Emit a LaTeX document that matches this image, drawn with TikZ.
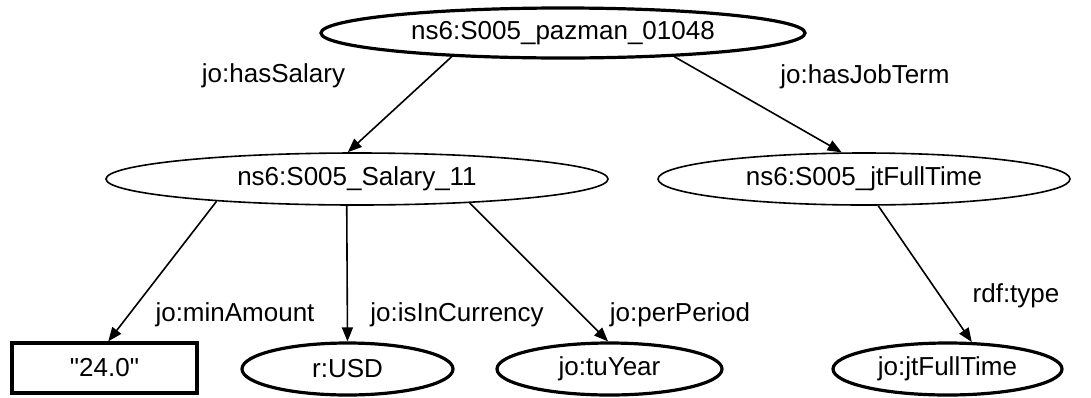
\documentclass[tikz,border=0pt]{standalone}
\usepackage{fontspec}
\setmainfont{Liberation Sans}[Ligatures=TeXOff]
\usetikzlibrary{shapes.geometric,arrows.meta}

\begin{document}
\begin{tikzpicture}[x=1pt,y=-1pt,
  font=\fontsize{26}{30}\selectfont,
  res/.style={ellipse,draw,inner sep=0pt,line width=#1},
  res/.default=3.2pt,
  lit/.style={rectangle,draw,inner sep=0pt,line width=3.2pt},
  rel/.style={line width=1.6pt,-{Triangle[length=14pt,width=11pt]}},
  lbl/.style={anchor=base,inner sep=0pt}]
\useasboundingbox (0,0) rectangle (1091,397);

% resources
\node[res, minimum width=484pt, minimum height=50pt] (job) at (563,33) {ns6:S005\_pazman\_01048};
\node[res=1.6pt, minimum width=502pt, minimum height=52pt] (sal) at (357,179) {ns6:S005\_Salary\_11};
\node[res=1.6pt, minimum width=412pt, minimum height=52pt] (term) at (864,179) {ns6:S005\_jtFullTime};

% leaves
\node[lit, minimum width=185pt, minimum height=50pt] (amt) at (104.5,368) {"24.0"};
\node[res, minimum width=211pt, minimum height=52pt] (usd) at (347.5,369) {r:USD};
\node[res, minimum width=225pt, minimum height=52pt] (year) at (609.5,369) {jo:tuYear};
\node[res, minimum width=229pt, minimum height=52pt] (ft) at (947.5,369) {jo:jtFullTime};

% properties
\draw[rel] (job.192.1) -- (sal.109.1);
\draw[rel] (job.348.2) -- (term.130.4);
\draw[rel] (sal.189.3) -- (amt.82);
\draw[rel] (sal.249) -- (usd.north);
\draw[rel] (sal.348.6) -- (year.93.3);
\draw[rel] (term.298.4) -- (ft.48.6);

% property labels
\node[lbl] (l1) at (273.5,82) {jo:hasSalary};
\node[lbl] (l2) at (865,83) {jo:hasJobTerm};
\node[lbl] (l3) at (235,321) {jo:minAmount};
\node[lbl] (l4) at (457,321) {jo:isInCurrency};
\node[lbl] (l5) at (680,321) {jo:perPeriod};
\node[lbl] (l6) at (1016,302) {rdf:type};
\end{tikzpicture}
\end{document}
